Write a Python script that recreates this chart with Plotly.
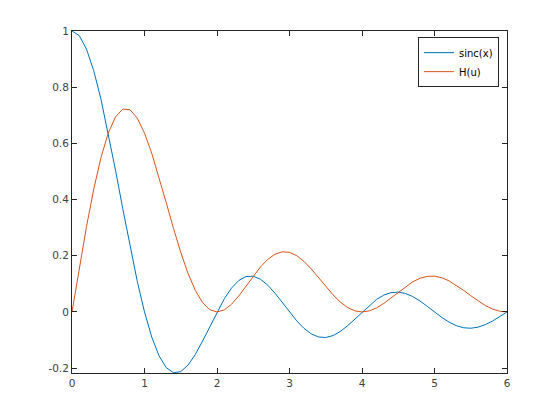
import plotly.graph_objects as go

x = [round(i * 0.1, 1) for i in range(61)]

sinc_x = [1.0, 0.9836, 0.9355, 0.8584, 0.7568, 0.6366, 0.5046, 0.3679, 0.2339, 0.1093,
          0.0, -0.0894, -0.1559, -0.1981, -0.2162, -0.2122, -0.1892, -0.1515, -0.1039, -0.0518,
          0.0, 0.0468, 0.0850, 0.1120, 0.1261, 0.1273, 0.1164, 0.0954, 0.0668, 0.0339,
          0.0, -0.0317, -0.0585, -0.0780, -0.0890, -0.0909, -0.0841, -0.0696, -0.0492, -0.0252,
          0.0, 0.0240, 0.0445, 0.0599, 0.0688, 0.0707, 0.0658, 0.0548, 0.0390, 0.0201,
          0.0, -0.0193, -0.0360, -0.0486, -0.0561, -0.0579, -0.0541, -0.0452, -0.0323, -0.0167,
          0.0]

H_u = [0.0, 0.1558, 0.3040, 0.4374, 0.5499, 0.6366, 0.6945, 0.7220, 0.7198, 0.6900,
       0.6366, 0.5646, 0.4799, 0.3888, 0.2976, 0.2122, 0.1375, 0.0772, 0.0338, 0.0082,
       0.0, 0.0074, 0.0276, 0.0570, 0.0916, 0.1273, 0.1603, 0.1872, 0.2057, 0.2142,
       0.2122, 0.2003, 0.1799, 0.1532, 0.1226, 0.0909, 0.0611, 0.0355, 0.0160, 0.0040,
       0.0, 0.0038, 0.0145, 0.0305, 0.0500, 0.0707, 0.0906, 0.1075, 0.1200, 0.1267,
       0.1273, 0.1218, 0.1107, 0.0954, 0.0772, 0.0579, 0.0393, 0.0230, 0.0105, 0.0026,
       0.0]

x_ticks = [0, 1, 2, 3, 4, 5, 6]
y_ticks = [-0.2, 0, 0.2, 0.4, 0.6, 0.8, 1]
y_tick_labels = ["-0.2", "0", "0.2", "0.4", "0.6", "0.8", "1"]

fig = go.Figure()
fig.add_trace(go.Scatter(x=x, y=sinc_x, mode="lines", name="sinc(x)",
                         line=dict(color="#0072BD", width=1)))
fig.add_trace(go.Scatter(x=x, y=H_u, mode="lines", name="H(u)",
                         line=dict(color="#D95319", width=1)))

axis_common = dict(showgrid=False, zeroline=False, showline=True, mirror="ticks",
                   linecolor="#262626", linewidth=1, ticks="inside", ticklen=5,
                   tickcolor="#262626", tickfont=dict(family="DejaVu Sans", size=10.5, color="#404040"))

fig.update_xaxes(range=[0, 6], tickvals=x_ticks, **axis_common)
fig.update_yaxes(range=[-0.2172, 1], tickvals=y_ticks, ticktext=y_tick_labels, **axis_common)

fig.update_layout(
    width=552, height=412,
    margin=dict(l=64, r=53, t=23, b=47),
    paper_bgcolor="white", plot_bgcolor="white",
    font=dict(family="DejaVu Sans", size=10, color="#262626"),
    legend=dict(x=0.9816, y=0.982, xanchor="right", yanchor="top",
                bgcolor="white", bordercolor="#262626", borderwidth=1,
                font=dict(family="DejaVu Sans", size=10, color="black"),
                tracegroupgap=0, itemwidth=30),
    showlegend=True,
)

fig.write_html("out.html")
